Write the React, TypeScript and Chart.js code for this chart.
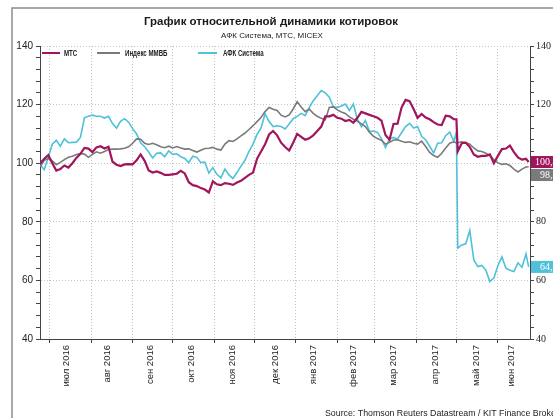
import React, { useEffect, useRef } from "react";
import { Chart, registerables } from "chart.js";

Chart.register(...registerables);

// Day offsets from 2016-07-01
const days = [
  -7, -4, -1, 2, 5, 8, 11, 14, 17, 20,
  23, 26, 29, 32, 35, 38, 41, 44, 47, 50,
  53, 56, 59, 62, 65, 68, 71, 74, 77, 80,
  83, 86, 89, 92, 95, 98, 101, 104, 107, 110,
  113, 116, 119, 122, 125, 128, 131, 134, 137, 140,
  143, 146, 149, 152, 155, 158, 161, 164, 167, 170,
  173, 176, 179, 182, 185, 188, 191, 194, 197, 200,
  203, 206, 209, 212, 215, 218, 221, 224, 227, 230,
  233, 236, 239, 242, 245, 248, 251, 254, 257, 260,
  263, 266, 269, 272, 275, 278, 281, 284, 287, 290,
  293, 296, 299, 302, 304,
  305, 308, 311, 314, 317, 320, 323, 326, 329, 332, 335, 338, 341, 344, 347, 350, 353, 356,
  358,
];

const mts = [
  100, 101.5, 102.8, 100, 97.5, 98, 99.2, 98.5, 100, 101.8,
  103.2, 105.2, 105, 103.8, 105.4, 105.8, 105, 105.6, 100.5, 99.5,
  99, 99.6, 99.7, 99.6, 101, 103, 100.8, 97.5, 96.8, 97.2,
  96.7, 96, 96, 96.2, 96.4, 97.4, 96.5, 93.5, 92.5, 92.2,
  91.5, 91, 90, 93.8, 92.8, 92.5, 93.2, 93, 92.6, 93.4,
  94, 95, 96, 96.8, 101.5, 104, 106.5, 109.8, 111, 109.5,
  107, 105.5, 104.3, 107, 110, 109, 108, 108.5, 109.5, 111,
  112.5, 116, 116, 116.5, 115.5, 115.2, 114.4, 114.8, 113.8, 115.5,
  117.5, 117, 116.5, 116, 115.5, 114.5, 109.6, 108, 113.4, 113.5,
  119, 121.6, 121.2, 118.5, 115.5, 116.8, 115.6, 115, 114, 113.2,
  113, 116.2, 116, 115, 115,
  104, 106.8, 107, 105.5, 103, 102.2, 102.5, 102.5, 103, 100, 102.5, 104.8, 105, 106, 103.8, 102, 101.2, 101.5,
  100.4,
];

const micex = [
  98.8, 101, 101.6, 100.8, 99.5, 100.3, 101.2, 102, 102.4, 103,
  103.3, 103.1, 102, 103, 103.9, 103.4, 104, 104.7, 104.8, 104.8,
  104.9, 105.1, 105.6, 106.8, 108.3, 108.2, 106.8, 106.4, 106.8, 106.3,
  105.6, 105.3, 105.8, 105.2, 105.7, 105.2, 104.8, 104.9, 104.3, 103.8,
  104.4, 105, 105.1, 105.4, 104.8, 104.5, 106.5, 107.7, 107.4, 108.3,
  109.3, 110.3, 111.5, 112.8, 114.2, 115.6, 117.6, 119, 118.4, 118,
  116.4, 115.8, 116.5, 118.5, 121, 119.2, 117.6, 118.5, 117, 116,
  115.3, 114.8, 119, 119.2, 118.2, 117.5, 117, 115.8, 115, 114.3,
  113.4, 112.5, 110.6, 109.2, 108.4, 107.8, 106.5, 107.1, 107.9, 108,
  107.5, 107.1, 107.3, 106.8, 106.5, 107.5, 105.7, 103.7, 102.6, 102,
  103.4, 105.2, 106.8, 107.3, 106.9,
  107, 107.3, 107, 106.5, 105.2, 104.2, 104, 103.4, 102.6, 101.2, 100.1, 99.6, 99.8, 99.2, 98, 97, 98, 98.7,
  98.8,
];

const afk = [
  99.4, 97.8, 102, 106.5, 107.8, 105.8, 108.3, 107, 107.1, 107.2,
  108.8, 115.5, 116, 116.4, 116, 116, 115.4, 116, 113.5, 112,
  114.3, 115.2, 114, 111.8, 110, 107, 105.6, 103.8, 101.8, 103.4,
  103.5, 102.2, 104.2, 103, 103.2, 102.2, 101.6, 100.2, 102.4, 102,
  100.2, 100.4, 96.6, 98.5, 96.2, 95, 98, 96, 94.8, 96.8,
  99, 101, 104, 106.5, 109.8, 112, 116.8, 114.2, 112.5, 112.8,
  112.5, 111.7, 113.4, 115.2, 116, 117, 116.2, 119, 121.3, 123,
  124.8, 124, 122.5, 119.3, 119, 119.5, 120.2, 118, 120.2, 115,
  112.5, 114.6, 110.8, 111, 110.5, 108.4, 105.3, 108.3, 108.8, 108.3,
  110.4, 112.5, 113.6, 112, 112.5, 109.2, 108, 105.8, 103.5, 106.8,
  107, 109.4, 110.6, 107.5, 110.5,
  71, 72.1, 72.5, 77, 67, 64.7, 65.1, 63.5, 59.6, 60.8, 65, 68, 64.2, 63.5, 63, 66, 64.5, 69,
  64.6,
];

const seriesNames = ["МТС", "Индекс ММВБ", "АФК Система"];
const seriesColors = ["#a0155c", "#7a7a7a", "#4fc1d9"];

const monthStarts = [0, 31, 62, 92, 123, 153, 184, 215, 243, 274, 304, 335];
const monthLabelDays = [12.7, 43.3, 75.4, 106, 136.6, 168.7, 197, 226.9, 256.7, 288, 318.7, 344.8];
const monthLabels = [
  "июл 2016", "авг 2016", "сен 2016", "окт 2016", "ноя 2016", "дек 2016",
  "янв 2017", "фев 2017", "мар 2017", "апр 2017", "май 2017", "июн 2017",
];

const TITLE = "График относительной динамики котировок";
const SUBTITLE = "АФК Система, МТС, MICEX";
const SOURCE = "Source: Thomson Reuters Datastream / KIT Finance Broker";

const X_MIN = -7.2;
const X_MAX = 359;
const Y_MIN = 40;
const Y_MAX = 140;

const SANS = '"Liberation Sans", Arial, sans-serif';
const SERIF = '"Liberation Serif", "Times New Roman", serif';

const isBoundary = (v: number) => monthStarts.indexOf(v) >= 0;

const overlayPlugin = {
  id: "overlay",
  afterDraw(chart: any) {
    const { ctx } = chart;
    ctx.save();
    // frame
    ctx.strokeStyle = "#8c8c8c";
    ctx.lineWidth = 1.5;
    ctx.beginPath();
    ctx.moveTo(12, 418);
    ctx.lineTo(12, 8);
    ctx.lineTo(553, 8);
    ctx.stroke();

    // title
    ctx.fillStyle = "#1a1a1a";
    ctx.textAlign = "center";
    ctx.textBaseline = "middle";
    ctx.font = "bold 11.5px " + SANS;
    ctx.fillText(TITLE, 271, 22);
    ctx.font = "8px " + SANS;
    ctx.fillText(SUBTITLE, 272, 36);

    // legend
    const legendItems = [
      { x1: 42, x2: 60, tx: 64 },
      { x1: 97, x2: 120, tx: 125 },
      { x1: 198, x2: 217, tx: 223 },
    ];
    legendItems.forEach((it, i) => {
      ctx.strokeStyle = seriesColors[i];
      ctx.lineWidth = 2;
      ctx.beginPath();
      ctx.moveTo(it.x1, 53);
      ctx.lineTo(it.x2, 53);
      ctx.stroke();
      ctx.save();
      ctx.translate(it.tx, 53.5);
      ctx.scale(0.72, 1);
      ctx.fillStyle = "#222";
      ctx.textAlign = "left";
      ctx.textBaseline = "middle";
      ctx.font = "bold 8.5px " + SANS;
      ctx.fillText(seriesNames[i], 0, 0);
      ctx.restore();
    });

    // value boxes at right
    const yScale = chart.scales.y;
    const lasts = [mts, micex, afk].map((arr, i) => ({
      i,
      v: arr[arr.length - 1],
      y: yScale.getPixelForValue(arr[arr.length - 1]),
    }));
    lasts.sort((a, b) => a.y - b.y);
    const h = 12;
    let prevBottom = -1e9;
    lasts.forEach((b) => {
      let top = b.y - h / 2;
      if (top < prevBottom + 1) top = prevBottom + 1;
      prevBottom = top + h;
      ctx.fillStyle = seriesColors[b.i];
      ctx.fillRect(531, top, 30, h);
      ctx.fillStyle = "#ffffff";
      ctx.font = "10px " + SERIF;
      ctx.textAlign = "right";
      ctx.textBaseline = "middle";
      ctx.fillText(b.v.toFixed(1).replace(".", ","), 557.5, top + h / 2 + 0.5);
    });

    // source
    ctx.fillStyle = "#222";
    ctx.font = "8.8px " + SANS;
    ctx.textAlign = "left";
    ctx.textBaseline = "middle";
    ctx.fillText(SOURCE, 325, 414);
    ctx.restore();
  },
};

export default function App() {
  const ref = useRef<HTMLCanvasElement | null>(null);
  useEffect(() => {
    if (!ref.current) return;
    const mk = (arr: number[]) => days.map((d, i) => ({ x: d, y: arr[i] }));
    const chart = new Chart(ref.current, {
      type: "line",
      data: {
        datasets: [
          { label: seriesNames[0], data: mk(mts), borderColor: seriesColors[0], borderWidth: 2.2, pointRadius: 0, tension: 0 },
          { label: seriesNames[1], data: mk(micex), borderColor: seriesColors[1], borderWidth: 1.6, pointRadius: 0, tension: 0 },
          { label: seriesNames[2], data: mk(afk), borderColor: seriesColors[2], borderWidth: 1.6, pointRadius: 0, tension: 0 },
        ],
      },
      options: {
        responsive: false,
        animation: false,
        events: [],
        layout: { padding: { top: 46, left: 0, right: 0, bottom: 0 } },
        plugins: { legend: { display: false }, title: { display: false }, tooltip: { enabled: false } },
        scales: {
          x: {
            type: "linear",
            min: X_MIN,
            max: X_MAX,
            afterBuildTicks: (scale: any) => {
              const vals = [...monthStarts, ...monthLabelDays].sort((a, b) => a - b);
              scale.ticks = vals.map((v) => ({ value: v }));
            },
            afterFit: (scale: any) => {
              scale.height = 79;
            },
            ticks: {
              autoSkip: false,
              maxRotation: 90,
              minRotation: 90,
              padding: 2,
              color: "#222",
              font: { family: SANS, size: 9.5 },
              callback: (v: any) => {
                const idx = monthLabelDays.indexOf(Number(v));
                return idx >= 0 ? monthLabels[idx] : "";
              },
            },
            grid: {
              color: (c: any) => (c.tick && isBoundary(c.tick.value) ? "#c4c4c4" : "rgba(0,0,0,0)"),
              lineWidth: 1,
              tickLength: 4,
              tickColor: (c: any) => (c.tick && isBoundary(c.tick.value) ? "#444" : "rgba(0,0,0,0)"),
              tickBorderDash: [],
            } as any,
            border: { display: true, color: "#444", width: 1, dash: [1, 2] },
          },
          y: {
            position: "left",
            min: Y_MIN,
            max: Y_MAX,
            afterFit: (scale: any) => {
              scale.width = 40;
            },
            ticks: {
              stepSize: 4,
              maxTicksLimit: 40,
              autoSkip: false,
              padding: 3,
              color: "#222",
              font: { family: SANS, size: 10 },
              callback: (v: any) => (Number(v) % 20 === 0 ? String(v) : ""),
            },
            grid: {
              color: (c: any) => (c.tick && c.tick.value % 20 === 0 ? "#c4c4c4" : "rgba(0,0,0,0)"),
              tickLength: 4,
              tickColor: "#444",
              tickBorderDash: [],
            } as any,
            border: { display: true, color: "#444", width: 1, dash: [1, 2] },
          },
          y2: {
            position: "right",
            min: Y_MIN,
            max: Y_MAX,
            afterFit: (scale: any) => {
              scale.width = 23;
            },
            ticks: {
              stepSize: 4,
              maxTicksLimit: 40,
              autoSkip: false,
              padding: 2,
              color: "#222",
              font: { family: SERIF, size: 10 },
              callback: (v: any) => (Number(v) % 20 === 0 ? String(v) : ""),
            },
            grid: {
              drawOnChartArea: false,
              tickLength: 4,
              tickColor: "#444",
            },
            border: { display: true, color: "#444", width: 1 },
          },
        },
      } as any,
      plugins: [overlayPlugin],
    });
    return () => chart.destroy();
  }, []);

  return (
    <div style={{ position: "fixed", left: 0, top: 0, width: 553, height: 418, background: "#fff" }}>
      <canvas ref={ref} width={553} height={418} style={{ display: "block", width: 553, height: 418 }} />
    </div>
  );
}
